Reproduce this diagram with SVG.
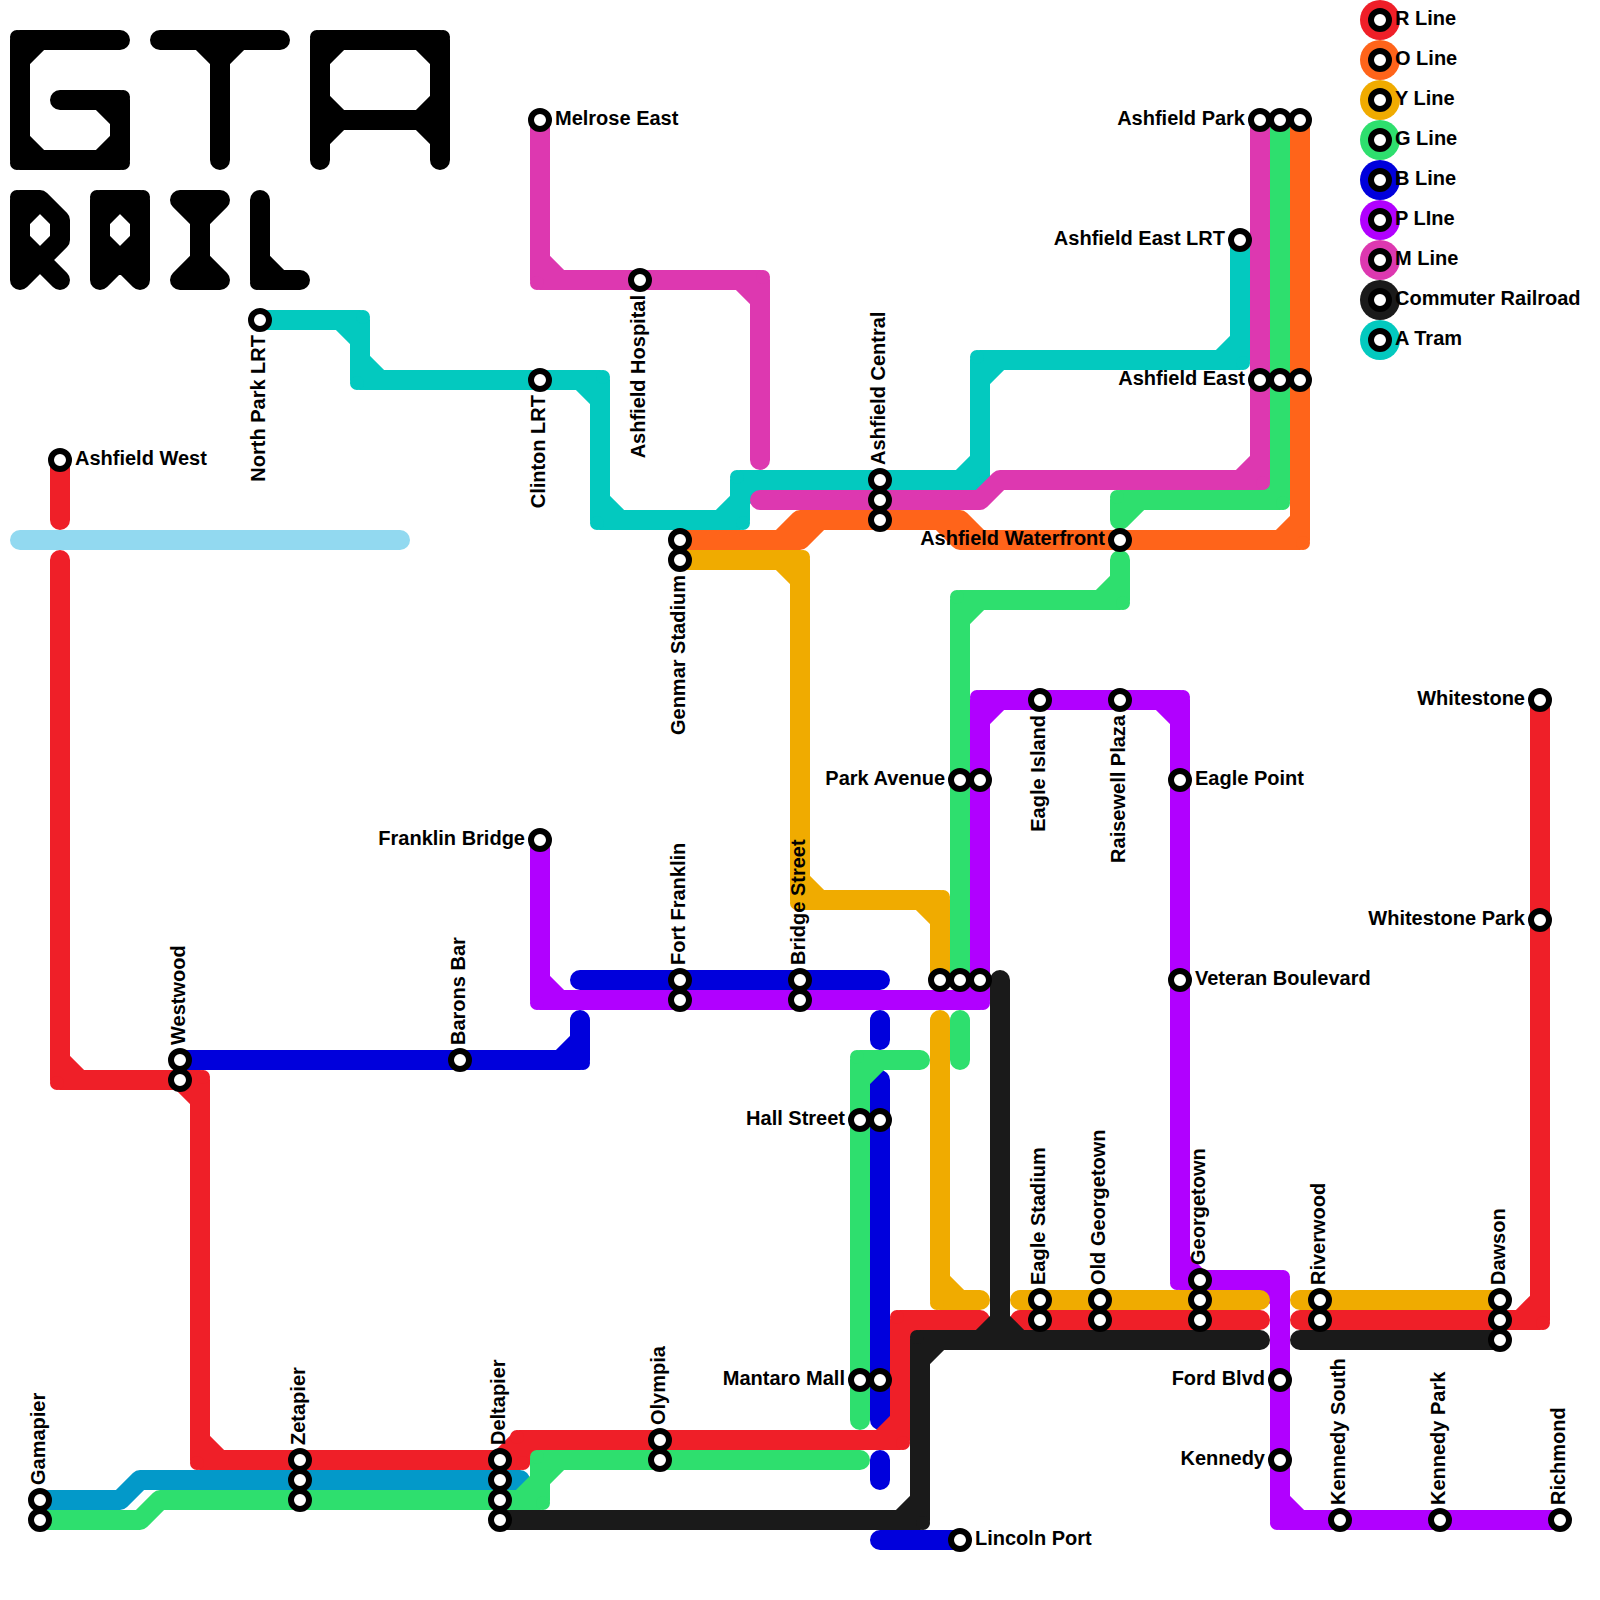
<svg xmlns="http://www.w3.org/2000/svg" width="1600" height="1600" viewBox="0 0 1600 1600">
<style>
.l{fill:none;stroke-width:20;stroke-linecap:round;stroke-linejoin:round}
.c{fill:none;stroke-width:14;stroke-linecap:round}
.k{stroke:#000}.lb{stroke:#92d9f0}.cb{stroke:#0399c9}.b{stroke:#0000dc}.a{stroke:#03c9bf}.o{stroke:#ff641a}.r{stroke:#ef1f28}.g{stroke:#2edf6e}.m{stroke:#dd38b0}.p{stroke:#b100ff}.y{stroke:#f0ab00}.n{stroke:#1a1a1a}
.s{fill:#fff;stroke:#000;stroke-width:6}
.t{font:bold 20px "Liberation Sans",Arial,sans-serif;fill:#000}
.e{text-anchor:end}
</style>
<rect width="1600" height="1600" fill="#fff"/>
<g id="logo">
<path class="l k" d="M120,40H20V160H120V100H60M40,40L20,60M20,140L40,160M100,160L120,140M100,100L120,120"/>
<path class="l k" d="M160,40H280M220,40V160M200,40L220,60M240,40L220,60"/>
<path class="l k" d="M320,160V40H440V160M320,120H440M340,40L320,60M420,40L440,60M320,100L340,120M440,100L420,120M320,140L340,120M440,140L420,120"/>
<path class="l k" d="M20,280V200H40L60,220V240L40,260L60,280M20,280L40,260M20,220L40,200M20,240L40,260"/>
<path class="l k" d="M100,280V200H140V280M100,220L120,200M140,220L120,200M100,240L120,260M140,240L120,260M100,280L120,260M140,280L120,260"/>
<path class="l k" d="M180,200H220M180,280H220M200,200V280M180,200L200,220M220,200L200,220M180,280L200,260M220,280L200,260"/>
<path class="l k" d="M260,200V280H300M260,260L280,280"/>
<path class="c k" d="M17,37h0M17,163h0M123,163h0M123,97h0M317,37h0M443,37h0M17,197h0M97,197h0M143,197h0M257,283h0"/>
</g>
<g id="connectors">
<g id="line-light"><path class="l lb" d="M20,540H400"/></g>
<g id="line-cyan"><path class="l cb" d="M40,1500H120L140,1480H520"/></g>
<g id="line-b">
<path class="l b" d="M180,1060H580V1020M560,1060L580,1040M580,980H880M880,1020V1040M880,1080V1420M880,1460V1480M880,1540H960"/>
<path class="c b" d="M583,1063h0"/>
</g>
<g id="line-a">
<path class="l a" d="M260,320H360V380H600V520H740V480H980V360H1240V240M340,320L360,340M380,380L360,360M580,380L600,400M600,500L620,520M720,520L740,500M740,500L760,480M960,480L980,460M1000,360L980,380M1220,360L1240,340"/>
<path class="c a" d="M363,317h0M357,383h0M603,377h0M597,523h0M743,523h0M737,477h0M983,483h0M977,357h0M1243,363h0"/>
</g>
<g id="line-o">
<path class="l o" d="M680,540H800L820,520H960L980,540H1300V120M780,540L800,520H820M940,520L960,540H980M1280,540L1300,520"/>
<path class="c o" d="M1303,543h0"/>
</g>
<g id="line-r">
<path class="l r" d="M60,460V520M60,560V1080H200V1460H520V1440H900V1320H980M1020,1320H1260M1300,1320H1540V700M60,1060L80,1080M180,1080L200,1100M200,1440L220,1460M500,1460L520,1440M520,1460L540,1440M880,1440L900,1420M900,1340L920,1320M1520,1320L1540,1300"/>
<path class="c r" d="M57,1083h0M203,1077h0M197,1463h0M523,1463h0M517,1437h0M903,1443h0M897,1317h0M1543,1323h0"/>
</g>
<g id="line-g">
<path class="l g" d="M1280,120V500H1120V520M1260,500L1280,480M1140,500L1120,520M1120,560V600H960V980M1100,600L1120,580M980,600L960,620M960,1020V1060M920,1060H860V1420M880,1060L860,1080M40,1520H140L160,1500H540V1460H860M520,1500L540,1480M560,1460L540,1480"/>
<path class="c g" d="M1283,503h0M1117,497h0M1123,603h0M957,597h0M857,1057h0M543,1503h0M537,1457h0"/>
</g>
<g id="line-m">
<path class="l m" d="M540,120V280H760V460M540,260L560,280M740,280L760,300M760,500H980L1000,480H1260V120M1240,480L1260,460"/>
<path class="c m" d="M537,283h0M763,277h0M1263,483h0"/>
</g>
<g id="line-p">
<path class="l p" d="M540,840V1000H980V700H1180V1280H1280V1520H1560M540,980L560,1000M960,1000L980,980M1000,700L980,720M1160,700L1180,720M1180,1260L1200,1280M1260,1280L1280,1300M1280,1500L1300,1520"/>
<path class="c p" d="M537,1003h0M983,1003h0M977,697h0M1183,697h0M1177,1283h0M1283,1277h0M1277,1523h0"/>
</g>
<g id="line-y">
<path class="l y" d="M680,560H800V900H940V980M780,560L800,580M800,880L820,900M920,900L940,920M940,1020V1300H980M940,1280L960,1300M1020,1300H1260M1300,1300H1500"/>
<path class="c y" d="M803,557h0M797,903h0M943,897h0M937,1303h0"/>
</g>
<g id="line-n">
<path class="l n" d="M1000,980V1340M1260,1340H920V1520H500M980,1340L1000,1320M1020,1340L1000,1320M940,1340L920,1360M900,1520L920,1500M1300,1340H1500"/>
<path class="c n" d="M917,1337h0M923,1523h0"/>
</g>
</g>
<g id="legend">
<g id="legend-r"><circle cx="1380" cy="20" r="20" fill="#ef1f28"/><circle class="s" cx="1380" cy="20" r="9"/><text class="t" x="1395" y="25">R Line</text></g>
<g id="legend-o"><circle cx="1380" cy="60" r="20" fill="#ff641a"/><circle class="s" cx="1380" cy="60" r="9"/><text class="t" x="1395" y="65">O Line</text></g>
<g id="legend-y"><circle cx="1380" cy="100" r="20" fill="#f0ab00"/><circle class="s" cx="1380" cy="100" r="9"/><text class="t" x="1395" y="105">Y Line</text></g>
<g id="legend-g"><circle cx="1380" cy="140" r="20" fill="#2edf6e"/><circle class="s" cx="1380" cy="140" r="9"/><text class="t" x="1395" y="145">G Line</text></g>
<g id="legend-b"><circle cx="1380" cy="180" r="20" fill="#0000dc"/><circle class="s" cx="1380" cy="180" r="9"/><text class="t" x="1395" y="185">B Line</text></g>
<g id="legend-p"><circle cx="1380" cy="220" r="20" fill="#b100ff"/><circle class="s" cx="1380" cy="220" r="9"/><text class="t" x="1395" y="225">P LIne</text></g>
<g id="legend-m"><circle cx="1380" cy="260" r="20" fill="#dd38b0"/><circle class="s" cx="1380" cy="260" r="9"/><text class="t" x="1395" y="265">M Line</text></g>
<g id="legend-n"><circle cx="1380" cy="300" r="20" fill="#1a1a1a"/><circle class="s" cx="1380" cy="300" r="9"/><text class="t" x="1395" y="305">Commuter Railroad</text></g>
<g id="legend-a"><circle cx="1380" cy="340" r="20" fill="#03c9bf"/><circle class="s" cx="1380" cy="340" r="9"/><text class="t" x="1395" y="345">A Tram</text></g>
</g>
<g id="stations">
<g id="ashfield-west"><circle class="s" cx="60" cy="460" r="9"/><text class="t" x="75" y="465">Ashfield West</text></g>
<g id="westwood"><circle class="s" cx="180" cy="1060" r="9"/><circle class="s" cx="180" cy="1080" r="9"/><text class="t" transform="translate(185,1045) rotate(-90)">Westwood</text></g>
<g id="barons-bar"><circle class="s" cx="460" cy="1060" r="9"/><text class="t" transform="translate(465,1045) rotate(-90)">Barons Bar</text></g>
<g id="franklin-bridge"><circle class="s" cx="540" cy="840" r="9"/><text class="t e" x="525" y="845">Franklin Bridge</text></g>
<g id="fort-franklin"><circle class="s" cx="680" cy="980" r="9"/><circle class="s" cx="680" cy="1000" r="9"/><text class="t" transform="translate(685,965) rotate(-90)">Fort Franklin</text></g>
<g id="bridge-street"><circle class="s" cx="800" cy="980" r="9"/><circle class="s" cx="800" cy="1000" r="9"/><text class="t" transform="translate(805,965) rotate(-90)">Bridge Street</text></g>
<g id="gamapier"><circle class="s" cx="40" cy="1500" r="9"/><circle class="s" cx="40" cy="1520" r="9"/><text class="t" transform="translate(45,1485) rotate(-90)">Gamapier</text></g>
<g id="zetapier"><circle class="s" cx="300" cy="1460" r="9"/><circle class="s" cx="300" cy="1480" r="9"/><circle class="s" cx="300" cy="1500" r="9"/><text class="t" transform="translate(305,1445) rotate(-90)">Zetapier</text></g>
<g id="deltapier"><circle class="s" cx="500" cy="1460" r="9"/><circle class="s" cx="500" cy="1480" r="9"/><circle class="s" cx="500" cy="1500" r="9"/><circle class="s" cx="500" cy="1520" r="9"/><text class="t" transform="translate(505,1445) rotate(-90)">Deltapier</text></g>
<g id="olympia"><circle class="s" cx="660" cy="1440" r="9"/><circle class="s" cx="660" cy="1460" r="9"/><text class="t" transform="translate(665,1425) rotate(-90)">Olympia</text></g>
<g id="north-park-lrt"><circle class="s" cx="260" cy="320" r="9"/><text class="t e" transform="translate(265,335) rotate(-90)">North Park LRT</text></g>
<g id="clinton-lrt"><circle class="s" cx="540" cy="380" r="9"/><text class="t e" transform="translate(545,395) rotate(-90)">Clinton LRT</text></g>
<g id="melrose-east"><circle class="s" cx="540" cy="120" r="9"/><text class="t" x="555" y="125">Melrose East</text></g>
<g id="ashfield-hospital"><circle class="s" cx="640" cy="280" r="9"/><text class="t e" transform="translate(645,295) rotate(-90)">Ashfield Hospital</text></g>
<g id="genmar-stadium"><circle class="s" cx="680" cy="540" r="9"/><circle class="s" cx="680" cy="560" r="9"/><text class="t e" transform="translate(685,575) rotate(-90)">Genmar Stadium</text></g>
<g id="ashfield-central"><circle class="s" cx="880" cy="480" r="9"/><circle class="s" cx="880" cy="500" r="9"/><circle class="s" cx="880" cy="520" r="9"/><text class="t" transform="translate(885,465) rotate(-90)">Ashfield Central</text></g>
<g id="ashfield-waterfront"><circle class="s" cx="1120" cy="540" r="9"/><text class="t e" x="1105" y="545">Ashfield Waterfront</text></g>
<g id="ashfield-east-lrt"><circle class="s" cx="1240" cy="240" r="9"/><text class="t e" x="1225" y="245">Ashfield East LRT</text></g>
<g id="ashfield-park"><circle class="s" cx="1260" cy="120" r="9"/><circle class="s" cx="1280" cy="120" r="9"/><circle class="s" cx="1300" cy="120" r="9"/><text class="t e" x="1245" y="125">Ashfield Park</text></g>
<g id="ashfield-east"><circle class="s" cx="1260" cy="380" r="9"/><circle class="s" cx="1280" cy="380" r="9"/><circle class="s" cx="1300" cy="380" r="9"/><text class="t e" x="1245" y="385">Ashfield East</text></g>
<g id="park-avenue"><circle class="s" cx="960" cy="780" r="9"/><circle class="s" cx="980" cy="780" r="9"/><text class="t e" x="945" y="785">Park Avenue</text></g>
<g id="eagle-island"><circle class="s" cx="1040" cy="700" r="9"/><text class="t e" transform="translate(1045,715) rotate(-90)">Eagle Island</text></g>
<g id="raisewell-plaza"><circle class="s" cx="1120" cy="700" r="9"/><text class="t e" transform="translate(1125,715) rotate(-90)">Raisewell Plaza</text></g>
<g id="eagle-point"><circle class="s" cx="1180" cy="780" r="9"/><text class="t" x="1195" y="785">Eagle Point</text></g>
<g id="veteran-boulevard"><circle class="s" cx="1180" cy="980" r="9"/><text class="t" x="1195" y="985">Veteran Boulevard</text></g>
<g id="interchange-980"><circle class="s" cx="940" cy="980" r="9"/><circle class="s" cx="960" cy="980" r="9"/><circle class="s" cx="980" cy="980" r="9"/></g>
<g id="hall-street"><circle class="s" cx="860" cy="1120" r="9"/><circle class="s" cx="880" cy="1120" r="9"/><text class="t e" x="845" y="1125">Hall Street</text></g>
<g id="mantaro-mall"><circle class="s" cx="860" cy="1380" r="9"/><circle class="s" cx="880" cy="1380" r="9"/><text class="t e" x="845" y="1385">Mantaro Mall</text></g>
<g id="lincoln-port"><circle class="s" cx="960" cy="1540" r="9"/><text class="t" x="975" y="1545">Lincoln Port</text></g>
<g id="eagle-stadium"><circle class="s" cx="1040" cy="1300" r="9"/><circle class="s" cx="1040" cy="1320" r="9"/><text class="t" transform="translate(1045,1285) rotate(-90)">Eagle Stadium</text></g>
<g id="old-georgetown"><circle class="s" cx="1100" cy="1300" r="9"/><circle class="s" cx="1100" cy="1320" r="9"/><text class="t" transform="translate(1105,1285) rotate(-90)">Old Georgetown</text></g>
<g id="georgetown"><circle class="s" cx="1200" cy="1280" r="9"/><circle class="s" cx="1200" cy="1300" r="9"/><circle class="s" cx="1200" cy="1320" r="9"/><text class="t" transform="translate(1205,1265) rotate(-90)">Georgetown</text></g>
<g id="riverwood"><circle class="s" cx="1320" cy="1300" r="9"/><circle class="s" cx="1320" cy="1320" r="9"/><text class="t" transform="translate(1325,1285) rotate(-90)">Riverwood</text></g>
<g id="dawson"><circle class="s" cx="1500" cy="1300" r="9"/><circle class="s" cx="1500" cy="1320" r="9"/><circle class="s" cx="1500" cy="1340" r="9"/><text class="t" transform="translate(1505,1285) rotate(-90)">Dawson</text></g>
<g id="ford-blvd"><circle class="s" cx="1280" cy="1380" r="9"/><text class="t e" x="1265" y="1385">Ford Blvd</text></g>
<g id="kennedy"><circle class="s" cx="1280" cy="1460" r="9"/><text class="t e" x="1265" y="1465">Kennedy</text></g>
<g id="kennedy-south"><circle class="s" cx="1340" cy="1520" r="9"/><text class="t" transform="translate(1345,1505) rotate(-90)">Kennedy South</text></g>
<g id="kennedy-park"><circle class="s" cx="1440" cy="1520" r="9"/><text class="t" transform="translate(1445,1505) rotate(-90)">Kennedy Park</text></g>
<g id="richmond"><circle class="s" cx="1560" cy="1520" r="9"/><text class="t" transform="translate(1565,1505) rotate(-90)">Richmond</text></g>
<g id="whitestone"><circle class="s" cx="1540" cy="700" r="9"/><text class="t e" x="1525" y="705">Whitestone</text></g>
<g id="whitestone-park"><circle class="s" cx="1540" cy="920" r="9"/><text class="t e" x="1525" y="925">Whitestone Park</text></g>
</g>
</svg>
